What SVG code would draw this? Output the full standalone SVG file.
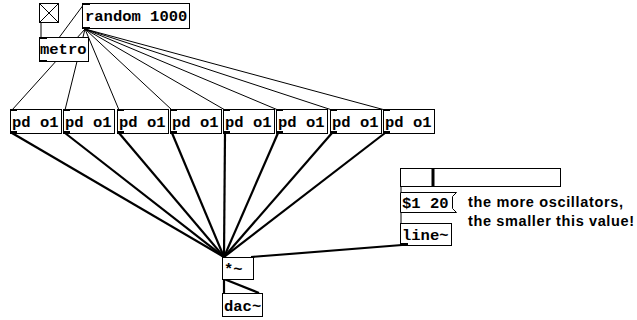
<svg xmlns="http://www.w3.org/2000/svg" width="637" height="320" viewBox="0 0 637 320">
<style>
.box{fill:#fff;stroke:#000;stroke-width:1}
.t{font-family:"Liberation Mono",monospace;font-weight:bold;font-size:15.5px;fill:#000}
.c{font-family:"Liberation Sans",Arial,sans-serif;font-weight:bold;font-size:14.5px;fill:#000}
.ctl{stroke:#000;stroke-width:1;fill:none}
.sig{stroke:#000;stroke-width:2.2;fill:none}
.io{fill:#000}
</style>
<rect width="637" height="320" fill="#fff"/>
<g id="connectors">
<line class="ctl" x1="41" y1="23" x2="41" y2="37"/>
<line class="ctl" x1="41" y1="62" x2="84" y2="4"/>
<line class="ctl" x1="85" y1="29" x2="12" y2="110"/>
<line class="ctl" x1="85" y1="29" x2="65" y2="110"/>
<line class="ctl" x1="85" y1="29" x2="119" y2="110"/>
<line class="ctl" x1="85" y1="29" x2="172" y2="110"/>
<line class="ctl" x1="85" y1="29" x2="225" y2="110"/>
<line class="ctl" x1="85" y1="29" x2="278" y2="110"/>
<line class="ctl" x1="85" y1="29" x2="332" y2="110"/>
<line class="ctl" x1="85" y1="29" x2="385" y2="110"/>
<line class="sig" x1="12" y1="133" x2="224" y2="257"/>
<line class="sig" x1="65" y1="133" x2="224" y2="257"/>
<line class="sig" x1="119" y1="133" x2="224" y2="257"/>
<line class="sig" x1="172" y1="133" x2="224" y2="257"/>
<line class="sig" x1="225" y1="133" x2="224" y2="257"/>
<line class="sig" x1="278" y1="133" x2="224" y2="257"/>
<line class="sig" x1="332" y1="133" x2="224" y2="257"/>
<line class="sig" x1="385" y1="133" x2="224" y2="257"/>
<line class="ctl" x1="401" y1="186" x2="401" y2="192"/>
<line class="ctl" x1="401" y1="212" x2="401" y2="223"/>
<line class="sig" x1="402" y1="245" x2="251" y2="257"/>
<line class="sig" x1="224" y1="279" x2="224" y2="293"/>
<line class="sig" x1="224" y1="279" x2="259" y2="293"/>
</g>
<g id="toggle">
<rect class="box" x="39.5" y="3.5" width="19" height="19"/>
<path class="ctl" d="M40 4L58 22M58 4L40 22"/>
</g>
<g id="random">
<rect class="box" x="82.5" y="3.5" width="107" height="25"/>
<text class="t" x="85" y="21">random 1000</text>
<rect class="io" x="82" y="3" width="8" height="2"/>
<rect class="io" x="82" y="27" width="8" height="2"/>
</g>
<g id="metro">
<rect class="box" x="39.5" y="37.5" width="49" height="24"/>
<text class="t" x="40" y="54">metro</text>
<rect class="io" x="39" y="37" width="8" height="2"/>
<rect class="io" x="39" y="60" width="8" height="2"/>
</g>
<g id="pd1"><rect class="box" x="10.5" y="109.5" width="51" height="24"/><text class="t" x="12" y="127">pd o1</text><rect class="io" x="10" y="109" width="7" height="2"/><rect class="io" x="10" y="131" width="7" height="3"/></g>
<g id="pd2"><rect class="box" x="63.5" y="109.5" width="51" height="24"/><text class="t" x="65" y="127">pd o1</text><rect class="io" x="63" y="109" width="7" height="2"/><rect class="io" x="63" y="131" width="7" height="3"/></g>
<g id="pd3"><rect class="box" x="117.5" y="109.5" width="51" height="24"/><text class="t" x="119" y="127">pd o1</text><rect class="io" x="117" y="109" width="7" height="2"/><rect class="io" x="117" y="131" width="7" height="3"/></g>
<g id="pd4"><rect class="box" x="170.5" y="109.5" width="51" height="24"/><text class="t" x="172" y="127">pd o1</text><rect class="io" x="170" y="109" width="7" height="2"/><rect class="io" x="170" y="131" width="7" height="3"/></g>
<g id="pd5"><rect class="box" x="223.5" y="109.5" width="51" height="24"/><text class="t" x="225" y="127">pd o1</text><rect class="io" x="223" y="109" width="7" height="2"/><rect class="io" x="223" y="131" width="7" height="3"/></g>
<g id="pd6"><rect class="box" x="276.5" y="109.5" width="51" height="24"/><text class="t" x="278" y="127">pd o1</text><rect class="io" x="276" y="109" width="7" height="2"/><rect class="io" x="276" y="131" width="7" height="3"/></g>
<g id="pd7"><rect class="box" x="330.5" y="109.5" width="51" height="24"/><text class="t" x="332" y="127">pd o1</text><rect class="io" x="330" y="109" width="7" height="2"/><rect class="io" x="330" y="131" width="7" height="3"/></g>
<g id="pd8"><rect class="box" x="383.5" y="109.5" width="51" height="24"/><text class="t" x="385" y="127">pd o1</text><rect class="io" x="383" y="109" width="7" height="2"/><rect class="io" x="383" y="131" width="7" height="3"/></g>
<g id="slider">
<rect class="box" x="400.5" y="168.5" width="160" height="18"/>
<rect x="431.5" y="169" width="3" height="17" fill="#000"/>
</g>
<g id="msg">
<path class="box" d="M400.5 192.5H456.5L452.5 196.5V208.5L456.5 212.5H400.5Z"/>
<text class="t" x="402" y="208">$1 20</text>
</g>
<g id="comment">
<text class="c" x="468" y="207" textLength="155" lengthAdjust="spacing">the more oscillators,</text>
<text class="c" x="468" y="226" textLength="166" lengthAdjust="spacing">the smaller this value!</text>
</g>
<g id="line">
<rect class="box" x="400.5" y="223.5" width="51" height="22"/>
<text class="t" x="402" y="240">line~</text>
<rect class="io" x="400" y="243" width="8" height="3"/>
</g>
<g id="mul">
<rect class="box" x="222.5" y="257.5" width="31" height="22"/>
<text class="t" x="224" y="274">*~</text>
</g>
<g id="dac">
<rect class="box" x="222.5" y="293.5" width="40" height="23"/>
<text class="t" x="224" y="311">dac~</text>
</g>
</svg>
